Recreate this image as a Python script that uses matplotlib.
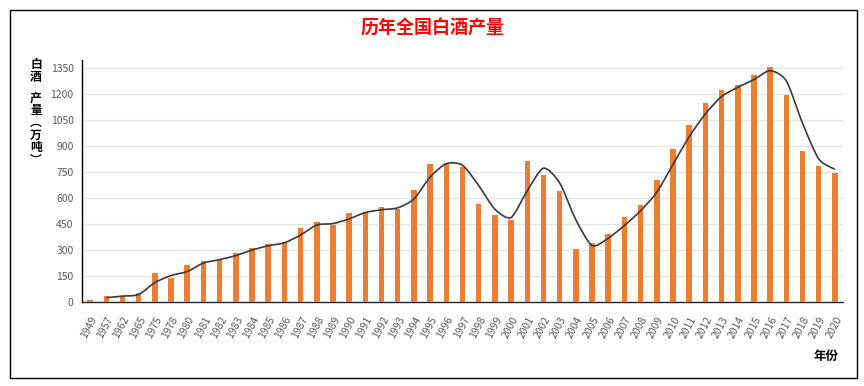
import matplotlib
matplotlib.use("Agg")
import matplotlib.pyplot as plt
from matplotlib.path import Path
from matplotlib.patches import PathPatch, Rectangle
import numpy as np

plt.rcParams['font.family'] = ['Noto Sans CJK SC', 'DejaVu Sans']

years = ['1949', '1957', '1962', '1965', '1975', '1978', '1980', '1981', '1982', '1983',
         '1984', '1985', '1986', '1987', '1988', '1989', '1990', '1991', '1992', '1993',
         '1994', '1995', '1996', '1997', '1998', '1999', '2000', '2001', '2002', '2003',
         '2004', '2005', '2006', '2007', '2008', '2009', '2010', '2011', '2012', '2013',
         '2014', '2015', '2016', '2017', '2018', '2019', '2020']
output = [10, 35, 32, 50, 165, 138, 212, 238, 250, 285,
          313, 336, 346, 427, 461, 444, 513, 519, 546, 540,
          648, 796, 801, 777, 569, 502, 473, 813, 733, 642,
          308, 342, 394, 490, 563, 705, 886, 1023, 1150, 1223,
          1256, 1313, 1358, 1196, 870, 785, 746]
# trend line (2-period moving average as drawn)
trend = [None, 25, 34, 43, 112, 153, 176, 225, 245, 268,
         300, 325, 342, 387, 445, 453, 480, 517, 533, 544,
         595, 722, 799, 790, 673, 536, 488, 643, 773, 688,
         475, 326, 368, 442, 527, 634, 795, 955, 1087, 1187,
         1240, 1285, 1336, 1277, 1033, 827, 766]
yticks = [0, 150, 300, 450, 600, 750, 900, 1050, 1200, 1350]

fig = plt.figure(figsize=(8.64, 3.86), dpi=100)
ax = fig.add_axes([82/864, 1-302/386, (843-82)/864, (302-60)/386])

x = np.arange(len(years))
ax.bar(x, output, width=0.34, color='#ED7D31', zorder=3)

# smoothed trend line (cubic Bezier through the trend points, data coordinates)
pts = [(xi, v) for xi, v in zip(x, trend) if v is not None]
P = np.array(pts, dtype=float)
verts = [tuple(P[0])]
codes = [Path.MOVETO]
n = len(P)
k = 8.0
for i in range(n - 1):
    p0 = P[i - 1] if i > 0 else P[i]
    p1 = P[i]
    p2 = P[i + 1]
    p3 = P[i + 2] if i + 2 < n else P[i + 1]
    c1 = p1 + (p2 - p0) / k
    c2 = p2 - (p3 - p1) / k
    verts += [tuple(c1), tuple(c2), tuple(p2)]
    codes += [Path.CURVE4, Path.CURVE4, Path.CURVE4]
ax.add_patch(PathPatch(Path(verts, codes), facecolor='none', edgecolor='#3a3a3a', lw=1.2, zorder=4))

ax.set_xlim(-0.5, len(years) - 0.5)
ax.set_ylim(0, 1398)
ax.set_yticks(yticks)
ax.set_yticklabels([str(v) for v in yticks], fontsize=7.5, color='#595959')
ax.set_xticks(x)
ax.set_xticklabels(years, rotation=62, ha='right', rotation_mode='anchor',
                   fontsize=7.5, color='#595959')
ax.tick_params(axis='both', length=0)
ax.tick_params(axis='x', pad=9)
ax.tick_params(axis='y', pad=6)
ax.grid(axis='y', color='#e3e3e3', lw=0.9, zorder=0)
ax.set_axisbelow(True)
for s in ['top', 'right']:
    ax.spines[s].set_visible(False)
ax.spines['left'].set_color('black')
ax.spines['left'].set_linewidth(1.0)
ax.spines['bottom'].set_color('#262626')
ax.spines['bottom'].set_linewidth(1.0)

fig.text(433/864, 1-28/386, '历年全国白酒产量', color='#FF0000', fontsize=13,
         fontweight='bold', ha='center', va='center')
fig.text(36/864, 1-71/386, '白\n酒', fontsize=8.5, fontweight='bold',
         ha='center', va='center', linespacing=0.95, color='black')
fig.text(36/864, 1-129/386, '产\n量\n︵\n万\n吨\n︶', fontsize=8.5, fontweight='bold',
         ha='center', va='center', linespacing=0.95, color='black')
fig.text(826/864, 1-356/386, '年份', fontsize=9, fontweight='bold', ha='center', va='center',
         color='black')

fig.patches.append(Rectangle((10/864, 1-378/386), (857-10)/864, (378-10)/386,
                             transform=fig.transFigure, fill=False, edgecolor='black', lw=1.0))

fig.savefig('out.png', dpi=100)
